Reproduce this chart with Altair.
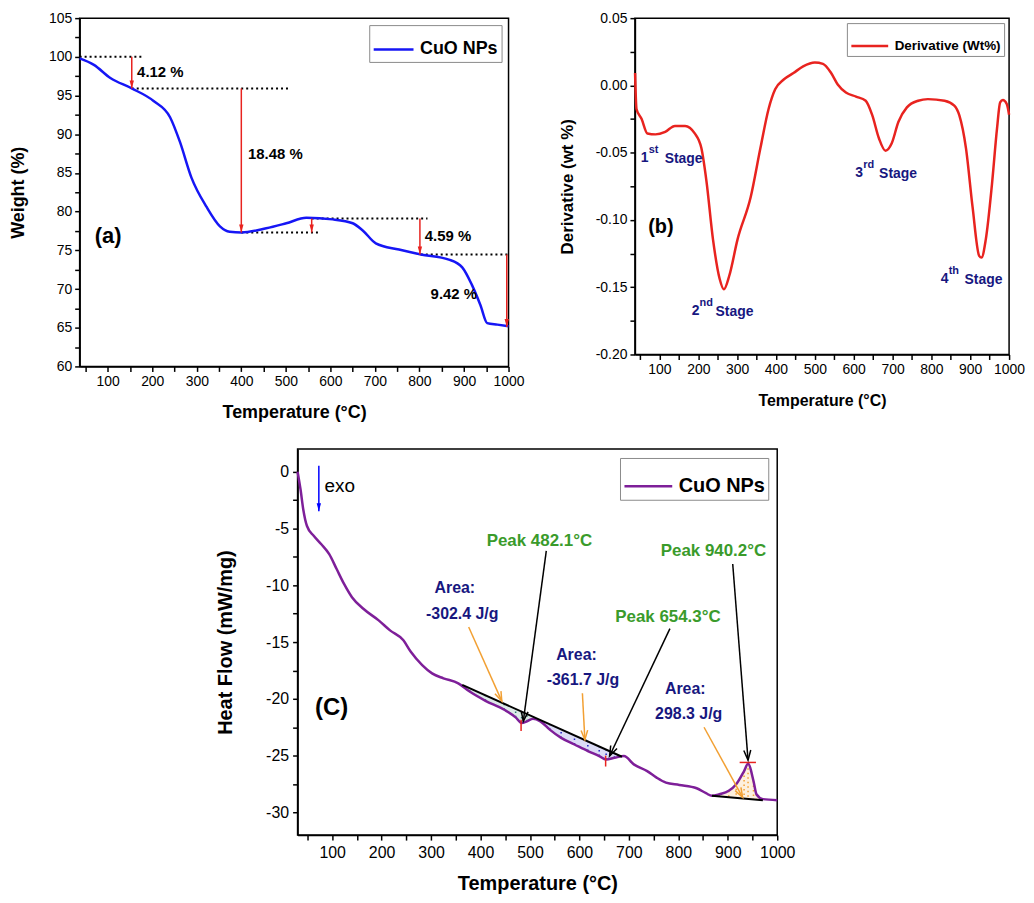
import altair as alt
import numpy as np
import pandas as pd

FONT = "Liberation Sans"
BLUE = "#1616F5"
RED = "#E8231F"
PURPLE = "#7E1F99"
GREEN = "#3A9B2B"
NAVY = "#17177F"
ORANGE = "#F2A033"
TEAL = "#2E7D6E"

# ---------------- Panel (a): TGA ----------------
tga_temp = [37, 69, 106, 154, 203, 240, 262, 288, 322, 352, 374, 400, 456, 501, 546,
            605, 650, 672, 702, 754, 803, 866, 896, 918, 937, 952, 975, 1000]
tga_weight = [99.8, 98.96, 97.27, 95.92, 94.3, 92.2, 89.04, 84.4, 80.6, 78.1, 77.4, 77.3,
              77.85, 78.5, 79.2, 79.0, 78.5, 77.6, 75.9, 75.1, 74.47, 73.8, 72.8, 70.5,
              67.9, 65.6, 65.4, 65.2]

guide_y = [100.0, 95.92, 77.3, 79.1, 74.47]
guide_x1 = [37, 154, 400, 558, 803]
guide_x2 = [180, 508, 575, 818, 1000]

drop_x = [154, 400, 558, 801, 996]
drop_from = [100.0, 95.92, 79.1, 79.1, 74.47]
drop_to = [95.92, 77.3, 77.3, 74.47, 65.1]

loss_text = ["4.12 %", "18.48 %", "4.59 %", "9.42 %"]
loss_x = [166, 415, 812, 825]
loss_y = [98.0, 87.5, 76.8, 69.3]

# ---------------- Panel (b): DTG ----------------
dtg_temp = [37.4, 41, 54, 69, 90, 115, 140, 166, 191, 208, 221, 238, 255, 266, 280, 301,
            335, 360, 381, 398, 420, 445, 470, 500, 521, 542, 559, 580, 606, 631, 648,
            665, 682, 698, 715, 737, 766, 791, 834, 859, 872, 889, 906, 923, 929, 940,
            956, 969, 977, 984, 994, 1000]
dtg_value = [0.0092, -0.0175, -0.0248, -0.0357, -0.0364, -0.0345, -0.0301, -0.0301,
             -0.0357, -0.0466, -0.0709, -0.1146, -0.1437, -0.1515, -0.1413, -0.1146,
             -0.083, -0.0466, -0.0175, -0.0029, 0.0044, 0.0092, 0.0141, 0.017, 0.016,
             0.0092, 0.0007, -0.0053, -0.0083, -0.0114, -0.0223, -0.0393, -0.0485,
             -0.043, -0.0272, -0.0163, -0.0114, -0.0102, -0.0114, -0.015, -0.0223,
             -0.0466, -0.0903, -0.1267, -0.128, -0.1146, -0.0733, -0.032, -0.0126,
             -0.0109, -0.0138, -0.0218]

stage_num = ["1", "2", "3", "4"]
stage_sup = ["st", "nd", "rd", "th"]
stage_x = [52, 183, 604, 824]
stage_y = [-0.054, -0.168, -0.0648, -0.1437]

# ---------------- Panel (c): DSC ----------------
dsc_temp = [30, 36, 41.5, 49, 63, 78, 94, 109, 124, 140, 163, 194, 217, 244, 259, 282,
            302, 325, 355, 378, 410, 448, 471, 483, 494, 506, 521, 540, 563, 590, 617,
            640, 654, 671, 690, 710, 737, 756, 775, 802, 837, 856, 868, 883, 902, 917,
            933, 941, 952, 958, 971, 1000]
dsc_flow = [0, -1.57, -3.32, -4.78, -5.66, -6.39, -7.26, -8.57, -9.88, -11.05, -12.07,
            -13.09, -13.97, -14.84, -15.86, -17.03, -17.76, -18.19, -18.63, -19.36,
            -20.17, -20.96, -21.63, -22.13, -21.98, -21.75, -21.98, -22.71, -23.44,
            -24.02, -24.6, -25.04, -25.34, -25.19, -25.04, -25.77, -26.36, -26.94,
            -27.38, -27.58, -27.87, -28.31, -28.54, -28.4, -28.1, -27.52, -26.36,
            -25.72, -27.23, -28.4, -28.83, -28.92]

base1_x = [363, 686]
base1_y = [-18.77, -25.1]
base2_x = [868, 971]
base2_y = [-28.54, -28.92]
area_ranges = [(363, 506), (506, 686), (868, 971)]
area_colors = [TEAL, "#2323C8", ORANGE]

peak_text = ["Peak 482.1°C", "Peak 654.3°C", "Peak 940.2°C"]
peak_x = [519, 779, 871]
peak_y = [-6.09, -12.8, -6.97]

area_text = ["Area:", "-302.4 J/g", "Area:", "-361.7 J/g", "Area:", "298.3 J/g"]
area_x = [348, 363, 594, 607, 814, 821]
area_y = [-10.26, -12.5, -16.1, -18.34, -19.13, -21.34]

ptr_tail_x = [533, 783, 910]
ptr_tail_y = [-6.97, -13.82, -8.13]
ptr_tip_x = [486.5, 661, 941]
ptr_tip_y = [-21.97, -25.03, -25.4]

org_tail_x = [376, 606, 852]
org_tail_y = [-13.67, -19.5, -22.5]
org_tip_x = [443, 611, 930]
org_tip_y = [-20.2, -23.6, -28.67]

mark_v_x = [482, 653]
mark_v_y1 = [-21.83, -25.0]
mark_v_y2 = [-22.84, -25.96]
mark_h_x1 = [924]
mark_h_x2 = [957]
mark_h_y = [-25.6]

# ---------------- helpers ----------------
FILLED_HEAD = "M 0 0 L -0.55 -2 L 0.55 -2 Z"
OPEN_HEAD = "M -0.7 -2 L 0 0 L 0.7 -2"


def x_axis(lsize, tsize, tpad, lpad, flush):
    return alt.Axis(
        title="Temperature (°C)", values=list(range(50, 1001, 50)),
        labelExpr="datum.value % 100 == 0 ? format(datum.value, 'd') : ''",
        labelFontSize=lsize, titleFontSize=tsize, titleFontWeight="bold",
        titlePadding=tpad, labelPadding=lpad, labelFlush=flush, labelOverlap=False,
        grid=False, tickSize=5, tickWidth=1.5, domainWidth=1.5,
        domainColor="black", tickColor="black", labelColor="black", titleColor="black",
        labelFont=FONT, titleFont=FONT)


def y_axis(title, values, expr, lsize, tsize, tpad, lpad):
    return alt.Axis(
        title=title, values=values, labelExpr=expr,
        labelFontSize=lsize, titleFontSize=tsize, titleFontWeight="bold",
        titlePadding=tpad, labelPadding=lpad, labelFlush=False, labelOverlap=False,
        grid=False, tickSize=5, tickWidth=1.5, domainWidth=1.5,
        domainColor="black", tickColor="black", labelColor="black", titleColor="black",
        labelFont=FONT, titleFont=FONT)


def legend(px, fsize, offset):
    return alt.Legend(
        title=None, orient="top-right", offset=offset, strokeColor="#8a8a8a",
        fillColor="white", padding=3, symbolType="stroke", symbolSize=px * px,
        symbolStrokeWidth=2.5, labelFontSize=fsize, labelFontWeight="bold",
        labelFont=FONT, labelColor="black", labelOffset=5)


def head_angles(tx, ty, hx, hy, kx, ky):
    out = []
    for a, b, c, d in zip(tx, ty, hx, hy):
        dxp = (c - a) * kx
        dyp = -(d - b) * ky
        out.append(float(np.degrees(np.arctan2(-dxp, dyp)) % 360))
    return out


def text_layer(df, X, Y, color, size, weight="bold", align="center", dx=0, dy=0):
    return alt.Chart(df).mark_text(
        color=color, fontSize=size, fontWeight=weight, align=align,
        baseline="middle", dx=dx, dy=dy, font=FONT).encode(x=X, y=Y, text="t:N")


FRAME = alt.ViewBackground(stroke="black", strokeWidth=1.5, fill="white")

# ================= Panel (a) =================
WA, HA = 431, 350
SXa = alt.Scale(domain=[37, 1000], nice=False, zero=False)
SYa = alt.Scale(domain=[60, 105], nice=False, zero=False)
XA = alt.X("x:Q", scale=SXa, axis=x_axis(14, 18, 15, 3, False))
YA = alt.Y("y:Q", scale=SYa, axis=y_axis(
    "Weight (%)", [60 + 2.5 * i for i in range(19)],
    "datum.value % 5 == 0 ? format(datum.value, 'd') : ''", 14, 18, 21, 3))

a_line = alt.Chart(pd.DataFrame({"x": tga_temp, "y": tga_weight, "s": "CuO NPs"})).mark_line(
    strokeWidth=2.5, interpolate="monotone").encode(
    x=XA, y=YA,
    color=alt.Color("s:N", scale=alt.Scale(domain=["CuO NPs"], range=[BLUE]),
                    legend=legend(40, 18, 7)))
a_guides = alt.Chart(pd.DataFrame({"x": guide_x1, "x2": guide_x2, "y": guide_y})).mark_rule(
    color="black", strokeDash=[2, 3], strokeWidth=2).encode(x=XA, x2="x2:Q", y=YA)
a_drops = alt.Chart(pd.DataFrame({"x": drop_x, "y": drop_from, "y2": drop_to})).mark_rule(
    color=RED, strokeWidth=1.5).encode(x=XA, y=YA, y2="y2:Q")
a_heads = alt.Chart(pd.DataFrame({"x": drop_x, "y": drop_to})).mark_point(
    shape=FILLED_HEAD, filled=True, color=RED, size=64, opacity=1).encode(x=XA, y=YA)
a_text = text_layer(pd.DataFrame({"x": loss_x, "y": loss_y, "t": loss_text}), XA, YA,
                    "black", 15, align="left")
a_tag = text_layer(pd.DataFrame({"x": [101], "y": [76.8], "t": ["(a)"]}), XA, YA, "black", 22)

chart_a = alt.layer(a_guides, a_line, a_drops, a_heads, a_text, a_tag).properties(
    width=WA, height=HA, view=FRAME)

# ================= Panel (b) =================
WB, HB = 376, 338
SXb = alt.Scale(domain=[37, 1000], nice=False, zero=False)
SYb = alt.Scale(domain=[-0.2, 0.05], nice=False, zero=False)
XB = alt.X("x:Q", scale=SXb, axis=x_axis(14, 16, 16, 3, False))
YB = alt.Y("y:Q", scale=SYb, axis=y_axis(
    "Derivative (wt %)", [round(-0.2 + 0.025 * i, 3) for i in range(11)],
    "abs(round(datum.value * 1000)) % 50 == 0 ? (datum.value < -0.0001 ? '-' : '') + "
    "format(abs(datum.value), '.2f') : ''", 14, 17, 19, 3))

b_line = alt.Chart(pd.DataFrame({"x": dtg_temp, "y": dtg_value, "s": "Derivative (Wt%)"})).mark_line(
    strokeWidth=2.5, interpolate="monotone").encode(
    x=XB, y=YB,
    color=alt.Color("s:N", scale=alt.Scale(domain=["Derivative (Wt%)"], range=[RED]),
                    legend=legend(37, 13.5, 5)))
stage_df = pd.DataFrame({"x": stage_x, "y": stage_y, "n": stage_num, "p": stage_sup})
b_num = alt.Chart(stage_df).mark_text(color=NAVY, fontSize=14, fontWeight="bold",
                                      align="left", baseline="middle", font=FONT).encode(
    x=XB, y=YB, text="n:N")
b_sup = alt.Chart(stage_df).mark_text(color=NAVY, fontSize=11, fontWeight="bold",
                                      align="left", baseline="middle", dx=8, dy=-8,
                                      font=FONT).encode(x=XB, y=YB, text="p:N")
b_stage = alt.Chart(stage_df).mark_text(color=NAVY, fontSize=14, fontWeight="bold",
                                        align="left", baseline="middle", dx=24, dy=1,
                                        text="Stage", font=FONT).encode(x=XB, y=YB)
b_tag = text_layer(pd.DataFrame({"x": [104], "y": [-0.1049], "t": ["(b)"]}), XB, YB, "black", 20)

chart_b = alt.layer(b_line, b_num, b_sup, b_stage, b_tag).properties(
    width=WB, height=HB, view=FRAME)

# ================= Panel (c) =================
WC, HC = 482, 388
XMIN_C, XMAX_C, YMIN_C, YMAX_C = 30, 1000, -32, 2
SXc = alt.Scale(domain=[XMIN_C, XMAX_C], nice=False, zero=False)
SYc = alt.Scale(domain=[YMIN_C, YMAX_C], nice=False, zero=False)
XC = alt.X("x:Q", scale=SXc, axis=x_axis(16, 20, 14, 4, False))
YC = alt.Y("y:Q", scale=SYc, axis=y_axis(
    "Heat Flow (mW/mg)", [-30 + 2.5 * i for i in range(13)],
    "datum.value % 5 == 0 ? (datum.value < 0 ? '-' : '') + format(abs(datum.value), 'd') : ''",
    16, 20, 30, 4))
kx_c = WC / (XMAX_C - XMIN_C)
ky_c = HC / (YMAX_C - YMIN_C)

c_line = alt.Chart(pd.DataFrame({"x": dsc_temp, "y": dsc_flow, "s": "CuO NPs"})).mark_line(
    strokeWidth=2.5, interpolate="monotone").encode(
    x=XC, y=YC,
    color=alt.Color("s:N", scale=alt.Scale(domain=["CuO NPs"], range=[PURPLE]),
                    legend=legend(48, 20, 9)))

# shaded (dotted) peak areas between curve and baseline
c_fill_layers = []
for (lo, hi), col, bx, by in zip(area_ranges, area_colors,
                                 [base1_x, base1_x, base2_x], [base1_y, base1_y, base2_y]):
    xs = [t for t in dsc_temp if lo < t < hi]
    ys = [f for t, f in zip(dsc_temp, dsc_flow) if lo < t < hi]
    base_lo = float(np.interp(lo, bx, by))
    base_hi = float(np.interp(hi, bx, by))
    xs_full = [lo] + xs + [hi]
    ys_full = [base_lo] + ys + [base_hi]
    bs_full = [float(np.interp(v, bx, by)) for v in xs_full]
    df_fill = pd.DataFrame({"x": xs_full, "y": ys_full, "y2": bs_full})
    c_fill_layers.append(alt.Chart(df_fill).mark_area(
        color=col, opacity=0.16, interpolate="monotone").encode(x=XC, y=YC, y2="y2:Q"))
    df_dots = pd.DataFrame({"x": xs, "y": ys, "y2": [float(np.interp(v, bx, by)) for v in xs]})
    c_fill_layers.append(alt.Chart(df_dots).mark_rule(
        color=col, strokeDash=[1.5, 3], strokeWidth=1.5).encode(x=XC, y=YC, y2="y2:Q"))

c_base = alt.Chart(pd.DataFrame({"x": [base1_x[0], base2_x[0]], "y": [base1_y[0], base2_y[0]],
                                 "x2": [base1_x[1], base2_x[1]], "y2": [base1_y[1], base2_y[1]]})
                   ).mark_rule(color="black", strokeWidth=2).encode(x=XC, y=YC, x2="x2:Q", y2="y2:Q")

c_mark_v = alt.Chart(pd.DataFrame({"x": mark_v_x, "y": mark_v_y1, "y2": mark_v_y2})).mark_rule(
    color=RED, strokeWidth=1.5).encode(x=XC, y=YC, y2="y2:Q")
c_mark_h = alt.Chart(pd.DataFrame({"x": mark_h_x1, "x2": mark_h_x2, "y": mark_h_y})).mark_rule(
    color=RED, strokeWidth=1.5).encode(x=XC, x2="x2:Q", y=YC)

ptr_df = pd.DataFrame({"x": ptr_tail_x, "y": ptr_tail_y, "x2": ptr_tip_x, "y2": ptr_tip_y})
c_ptr = alt.Chart(ptr_df).mark_rule(color="black", strokeWidth=1.5).encode(
    x=XC, y=YC, x2="x2:Q", y2="y2:Q")
ptr_head_df = pd.DataFrame({"x": ptr_tip_x, "y": ptr_tip_y,
                            "ang": head_angles(ptr_tail_x, ptr_tail_y, ptr_tip_x, ptr_tip_y, kx_c, ky_c)})
c_ptr_head = alt.Chart(ptr_head_df).mark_point(
    shape=OPEN_HEAD, filled=False, color="black", strokeWidth=1.5, size=100, opacity=1).encode(
    x=XC, y=YC, angle=alt.Angle("ang:Q", scale=None))

org_df = pd.DataFrame({"x": org_tail_x, "y": org_tail_y, "x2": org_tip_x, "y2": org_tip_y})
c_org = alt.Chart(org_df).mark_rule(color=ORANGE, strokeWidth=1.5).encode(
    x=XC, y=YC, x2="x2:Q", y2="y2:Q")
org_head_df = pd.DataFrame({"x": org_tip_x, "y": org_tip_y,
                            "ang": head_angles(org_tail_x, org_tail_y, org_tip_x, org_tip_y, kx_c, ky_c)})
c_org_head = alt.Chart(org_head_df).mark_point(
    shape=OPEN_HEAD, filled=False, color=ORANGE, strokeWidth=1.5, size=90, opacity=1).encode(
    x=XC, y=YC, angle=alt.Angle("ang:Q", scale=None))

c_exo = alt.Chart(pd.DataFrame({"x": [73], "y": [0.52], "y2": [-3.47]})).mark_rule(
    color="blue", strokeWidth=1.5).encode(x=XC, y=YC, y2="y2:Q")
c_exo_head = alt.Chart(pd.DataFrame({"x": [73], "y": [-3.47]})).mark_point(
    shape=FILLED_HEAD, filled=True, color="blue", size=64, opacity=1).encode(x=XC, y=YC)
c_exo_text = text_layer(pd.DataFrame({"x": [84.6], "y": [-1.28], "t": ["exo"]}), XC, YC,
                        "black", 19, weight="normal", align="left")

c_peak = text_layer(pd.DataFrame({"x": peak_x, "y": peak_y, "t": peak_text}), XC, YC, GREEN, 17)
c_area = text_layer(pd.DataFrame({"x": area_x, "y": area_y, "t": area_text}), XC, YC, NAVY, 16)
c_tag = text_layer(pd.DataFrame({"x": [99], "y": [-20.8], "t": ["(C)"]}), XC, YC, "black", 24)

chart_c = alt.layer(*c_fill_layers, c_line, c_base, c_mark_v, c_mark_h, c_ptr, c_ptr_head,
                    c_org, c_org_head, c_exo, c_exo_head, c_exo_text, c_peak, c_area,
                    c_tag).properties(width=WC, height=HC, view=FRAME)

spacer = alt.Chart(pd.DataFrame({"v": [0]})).mark_text(text="").encode(
    x=alt.value(0), y=alt.value(0)).properties(
    width=116, height=20, view=alt.ViewBackground(stroke=None, fill=None))

top = alt.hconcat(chart_a, chart_b, spacing=32).resolve_scale(color="independent")
bottom = alt.hconcat(spacer, chart_c, spacing=20).resolve_scale(color="independent")
chart = alt.vconcat(top, bottom, spacing=21).resolve_scale(color="independent").properties(
    padding=0).configure(font=FONT).configure_view(stroke=None)

chart.save("out.html", embed_options={"renderer": "svg", "actions": False})
